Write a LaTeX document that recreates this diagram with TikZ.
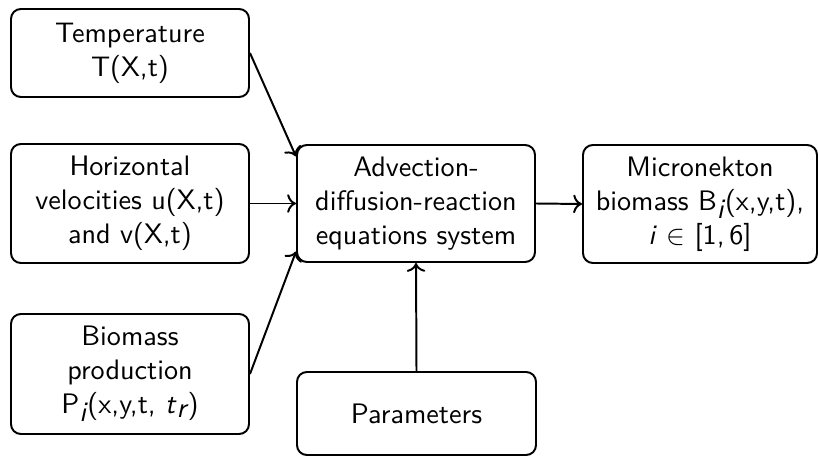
\documentclass[tikz,border=0pt]{standalone}
\usetikzlibrary{arrows.meta}
\begin{document}
\begin{tikzpicture}[x=0.355pt,y=-0.355pt,
  box/.style={draw, line width=0.7pt, rounded corners=3.5pt, align=center,
    font=\sffamily, inner sep=0pt},
  conn/.style={->, line width=0.7pt}]
\useasboundingbox (0,0) rectangle (818,456);
\node[box, minimum width={238*0.355pt}, minimum height={88*0.355pt}] (temp) at (130,53) {Temperature\\T(X,t)};
\node[box, minimum width={238*0.355pt}, minimum height={119*0.355pt}] (horiz) at (130,203.5) {Horizontal\\velocities u(X,t)\\and v(X,t)};
\node[box, minimum width={238*0.355pt}, minimum height={120*0.355pt}] (bio) at (130,374) {Biomass\\production\\P$_{\textit{i}}$(x,y,t, \textit{t}$_{\textit{r}}$)};
\node[box, minimum width={238*0.355pt}, minimum height={117*0.355pt}] (adv) at (416,203.5) {Advection-\\diffusion-reaction\\equations system};
\node[box, minimum width={234*0.355pt}, minimum height={118*0.355pt}] (micro) at (700,204) {Micronekton\\biomass B$_{\textit{i}}$(x,y,t),\\\textit{i}~$\in$~[1,\,6]};
\node[box, minimum width={239*0.355pt}, minimum height={83*0.355pt}] (param) at (416.5,413.5) {Parameters};
\coordinate (advtop) at ([yshift={47*0.355pt}]adv.west);
\coordinate (advbot) at ([yshift={-48*0.355pt}]adv.west);
\draw[conn] (temp.east) -- (advtop);
\draw[conn] (horiz.east) -- (adv.west);
\draw[conn] (bio.east) -- (advbot);
\draw[conn] (param.north) -- (adv.south);
\draw[conn] (adv.east) -- (micro.west);
\end{tikzpicture}
\end{document}
